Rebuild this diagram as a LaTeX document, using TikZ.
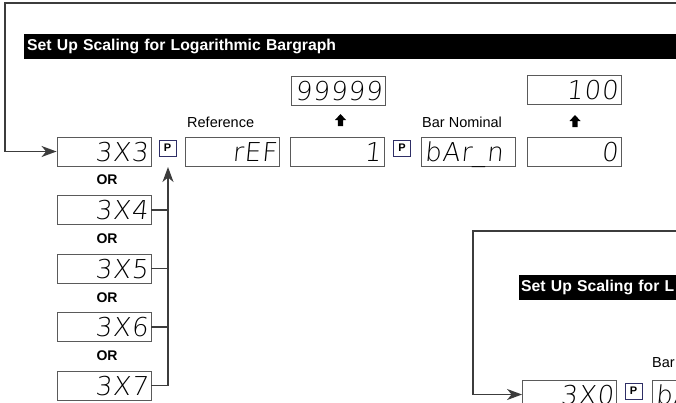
\documentclass[tikz,border=0pt]{standalone}
\usepackage{fontspec}
\setmainfont{Liberation Sans}
\IfFontExistsTF{DejaVu Sans ExtraLight}
  {\newfontfamily\seg{DejaVu Sans ExtraLight}[FakeSlant=0.1,LetterSpace=4]}
  {\IfFontExistsTF{Lato Light}
    {\newfontfamily\seg{Lato Light}[FakeSlant=0.1,LetterSpace=8]}
    {\IfFontExistsTF{Open Sans Light}
      {\newfontfamily\seg{Open Sans Light}[FakeSlant=0.1,LetterSpace=6]}
      {\newfontfamily\seg{Latin Modern Sans}[FakeSlant=0.1,LetterSpace=8]}}}
\usetikzlibrary{arrows.meta}
\definecolor{linegray}{HTML}{3C3C3C}
\definecolor{boxgray}{HTML}{5A5A5A}
\definecolor{pnavy}{HTML}{2E2E66}
\tikzset{
  conn/.style={draw=linegray, line width=1.4pt},
  tip/.style={-{Stealth[length=15pt,width=11pt,inset=4.5pt]}},
  disp/.style={draw=boxgray, line width=0.9pt, fill=white, inner xsep=3pt, inner ysep=5pt,
    text width=88pt, align=right, text height=19pt, text depth=0pt,
    font=\seg\fontsize{26}{26}\selectfont},
  pkey/.style={draw=pnavy, line width=0.8pt, fill=white, minimum width=17pt, minimum height=16pt,
    inner sep=0pt, font=\bfseries\fontsize{11}{11}\selectfont},
  lab/.style={inner sep=0pt, anchor=base west, font=\fontsize{14.5}{14.5}\selectfont},
  orlab/.style={inner sep=0pt, font=\bfseries\fontsize{14}{14}\selectfont},
  titlebar/.style={fill=black, text=white, anchor=west, inner xsep=3pt, inner ysep=0pt,
    minimum height=25pt, align=left, font=\bfseries\fontsize{15.75}{15.75}\selectfont},
  pics/uparr/.style={code={\fill (0,-6) -- (5.5,0) -- (2.6,0) -- (2.6,6) -- (-2.6,6) -- (-2.6,0) -- (-5.5,0) -- cycle;}}
}
\begin{document}
\begin{tikzpicture}[x=1pt,y=-1pt]
\useasboundingbox (0,0) rectangle (676,402);
\clip (0,0) rectangle (676,402);
% ---------- first group ----------
\coordinate (topR) at (676,3);
\coordinate (topL) at (5,3);
\node (title1) [titlebar, text width=646pt] at (24,46.5) {Set Up Scaling for Logarithmic Bargraph};

\node (b3) [disp] at (104,151.5) {3X3};
\node (pA) [pkey] at (167.5,148) {P};
\node (ref) [disp] at (232.5,151.5) {rEF};
\node (one) [disp] at (337,151.5) {1};
\node (pB) [pkey] at (402,148) {P};
\node (bar) [disp, align=left] at (468.5,151.5) {bAr\_n};
\node (zero) [disp] at (574,151.5) {0};
\node (nines) [disp] at (338,90.5) {99999};
\node (hund) [disp] at (574,90) {100};

\node (lref) [lab] at (187,127) {Reference};
\node (lbar) [lab] at (422,127) {Bar Nominal};
\pic at (340.5,120) {uparr};
\pic at (575,121) {uparr};

\node (b4) [disp] at (104,210) {3X4};
\node (b5) [disp] at (104,268.5) {3X5};
\node (b6) [disp] at (104,327) {3X6};
\node (b7) [disp] at (104,385.5) {3X7};
\node (or1) [orlab] at (107,180) {OR};
\node (or2) [orlab] at (107,239) {OR};
\node (or3) [orlab] at (107,297.5) {OR};
\node (or4) [orlab] at (107,356) {OR};

\draw[conn, tip] (topR) -- (topL) |- (b3.west);
\coordinate (ptip) at (168,167);
\draw[conn, tip] (b7.east) -| (ptip);
\draw[conn] (b4.east) -- (b4.east -| ptip);
\draw[conn] (b5.east) -- (b5.east -| ptip);
\draw[conn] (b6.east) -- (b6.east -| ptip);

% ---------- second group ----------
\coordinate (topR2) at (676,231);
\coordinate (topL2) at (473,231);
\node (title2) [titlebar, inner xsep=2pt, text width=200pt] at (519,287.5) {Set Up Scaling for L};
\node (lbar2) [lab] at (652,367) {Bar};
\node (c0) [disp] at (569.5,394.5) {3X0};
\node (pC) [pkey] at (633.5,391) {P};
\node (c2) [disp, align=left] at (699.5,394.5) {bA};
\draw[conn, tip] (topR2) -- (topL2) |- (c0.west);
\end{tikzpicture}
\end{document}
